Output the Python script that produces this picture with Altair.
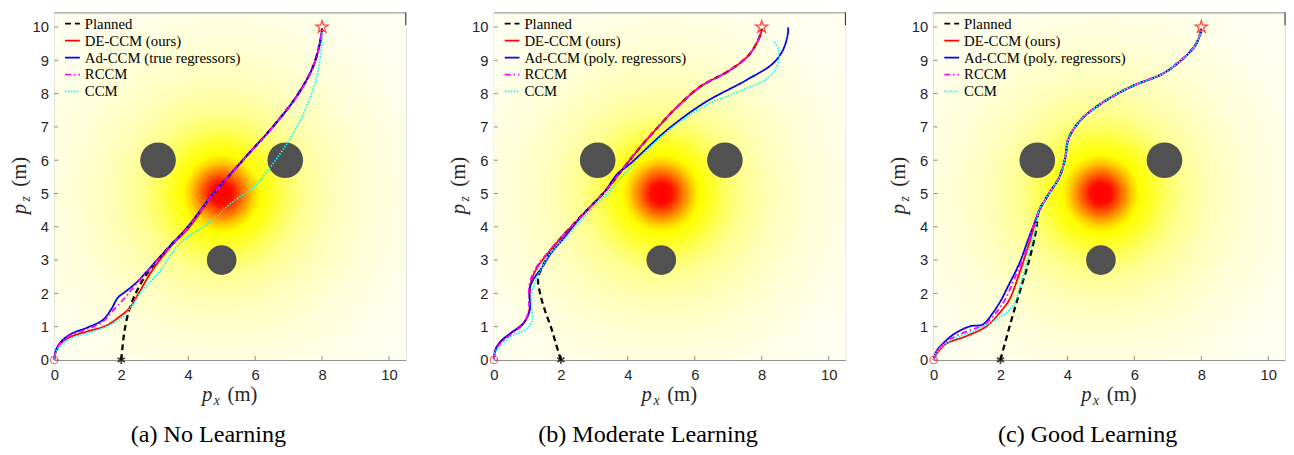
import math
import altair as alt
import pandas as pd

# ---------------- data ----------------
names_a = ["Planned", "DE-CCM (ours)", "Ad-CCM (true regressors)", "RCCM", "CCM"]
names_b = ["Planned", "DE-CCM (ours)", "Ad-CCM (poly. regressors)", "RCCM", "CCM"]
names_c = ["Planned", "DE-CCM (ours)", "Ad-CCM (poly. regressors)", "RCCM", "CCM"]
captions = ["(a) No Learning", "(b) Moderate Learning", "(c) Good Learning"]
x_ticks = [0, 2, 4, 6, 8, 10]
z_ticks = [0, 1, 2, 3, 4, 5, 6, 7, 8, 9, 10]

# obstacles (m)
obs_x = [3.1, 6.9, 5.0]
obs_z = [6.0, 6.0, 3.0]
obs_r = [0.6, 0.6, 0.5]

# start / planned start / goal
start_x, start_z = [0.0], [0.0]
plan0_x, plan0_z = [2.0], [0.0]
goal_x, goal_z = [8.0], [10.0]

# ---- panel (a) ----
a_plan_x = [2.0, 2.04, 2.09, 2.24, 2.53, 2.92, 3.51, 4.0, 4.59, 5.08, 5.76, 6.55, 7.24, 7.73, 7.95, 8.0]
a_plan_z = [0.0, 0.4, 0.82, 1.51, 2.2, 2.79, 3.48, 3.97, 4.76, 5.36, 6.14, 7.03, 7.92, 8.81, 9.6, 9.95]
a_de_x = [0.0, 0.05, 0.2, 0.5, 1.0, 1.55, 1.95, 2.24, 2.53, 2.92, 3.5, 4.0, 4.59, 5.08, 5.76, 6.55, 7.24, 7.73, 7.95, 8.0]
a_de_z = [0.0, 0.25, 0.5, 0.7, 0.86, 1.03, 1.3, 1.55, 2.02, 2.68, 3.43, 3.95, 4.75, 5.36, 6.14, 7.03, 7.92, 8.81, 9.6, 9.95]
a_ad_x = [0.0, 0.05, 0.2, 0.5, 1.0, 1.45, 1.7, 1.9, 2.15, 2.5, 2.95, 3.5, 4.0, 4.59, 5.08, 5.76, 6.55, 7.24, 7.73, 7.95, 8.0]
a_ad_z = [0.0, 0.3, 0.55, 0.78, 0.98, 1.2, 1.52, 1.87, 2.07, 2.37, 2.87, 3.47, 4.02, 4.8, 5.38, 6.15, 7.03, 7.92, 8.81, 9.6, 9.95]
a_rc_x = [0.0, 0.05, 0.2, 0.5, 1.0, 1.45, 1.75, 2.05, 2.3, 2.6, 3.0, 3.5, 4.0, 4.59, 5.08, 5.76, 6.55, 7.24, 7.73, 7.95, 8.0]
a_rc_z = [0.0, 0.28, 0.52, 0.75, 0.93, 1.15, 1.48, 1.8, 2.1, 2.45, 2.9, 3.44, 3.99, 4.78, 5.37, 6.14, 7.02, 7.9, 8.8, 9.6, 9.95]
a_cc_x = [0.0, 0.05, 0.2, 0.5, 1.0, 1.5, 2.0, 2.3, 2.6, 3.1, 3.75, 4.69, 5.27, 5.9, 6.35, 6.75, 7.04, 7.4, 7.65, 7.82, 7.93, 7.99, 8.0]
a_cc_z = [0.0, 0.22, 0.45, 0.65, 0.8, 0.98, 1.25, 1.6, 2.05, 2.6, 3.5, 4.17, 4.7, 5.15, 5.65, 6.2, 6.64, 7.3, 7.9, 8.4, 9.0, 9.45, 9.85]

# ---- panel (b) ----
b_plan_x = [2.0, 1.85, 1.7, 1.52, 1.38, 1.32, 1.45, 1.6, 1.91, 2.55, 3.35, 3.93, 4.41, 5.0, 5.39, 6.18, 7.06, 7.65, 7.97, 8.0]
b_plan_z = [0.0, 0.5, 1.0, 1.5, 2.0, 2.45, 2.8, 3.1, 3.55, 4.26, 5.1, 5.84, 6.44, 7.1, 7.52, 8.22, 8.71, 9.2, 9.79, 9.95]
b_de_x = [0.0, 0.05, 0.2, 0.49, 0.88, 1.06, 1.07, 1.1, 1.25, 1.67, 2.16, 2.6, 3.35, 3.93, 4.41, 5.0, 5.39, 6.18, 7.06, 7.65, 7.97, 8.0]
b_de_z = [0.0, 0.33, 0.55, 0.8, 1.1, 1.5, 2.0, 2.3, 2.7, 3.28, 3.83, 4.3, 5.1, 5.84, 6.44, 7.1, 7.52, 8.22, 8.71, 9.2, 9.79, 9.95]
b_ad_x = [0.0, 0.05, 0.2, 0.5, 0.88, 1.07, 1.06, 1.08, 1.2, 1.45, 1.7, 2.0, 2.6, 3.3, 3.7, 4.02, 5.2, 6.28, 7.55, 8.33, 8.63, 8.78, 8.79]
b_ad_z = [0.0, 0.3, 0.55, 0.8, 1.1, 1.5, 2.0, 2.2, 2.45, 2.8, 3.2, 3.55, 4.3, 5.05, 5.6, 5.85, 6.93, 7.72, 8.41, 8.9, 9.3, 9.79, 9.99]
b_rc_x = [0.0, 0.06, 0.25, 0.55, 0.9, 1.04, 1.04, 1.08, 1.25, 1.67, 2.16, 2.6, 3.35, 3.93, 4.41, 5.0, 5.39, 6.18, 7.06, 7.65, 7.97, 8.0]
b_rc_z = [0.0, 0.3, 0.55, 0.8, 1.1, 1.5, 2.0, 2.35, 2.75, 3.3, 3.85, 4.3, 5.1, 5.84, 6.44, 7.1, 7.52, 8.22, 8.71, 9.2, 9.79, 9.95]
b_cc_x = [0.0, 0.05, 0.25, 0.6, 1.0, 1.15, 1.13, 1.13, 1.32, 1.67, 2.16, 2.6, 3.43, 4.41, 5.39, 6.37, 7.35, 8.24, 8.48, 8.51, 8.36]
b_cc_z = [0.0, 0.25, 0.5, 0.75, 0.95, 1.2, 1.5, 2.0, 2.54, 3.19, 3.68, 4.18, 5.06, 6.14, 7.03, 7.67, 8.07, 8.51, 8.9, 9.3, 9.6]

# ---- panel (c) ----
c_plan_x = [2.0, 2.27, 2.56, 2.86, 3.06, 3.15, 3.45, 3.74, 3.93, 4.03, 4.42, 5.11, 5.95, 6.85, 7.45, 7.82, 7.97, 8.0]
c_plan_z = [0.0, 1.0, 2.0, 3.0, 3.87, 4.47, 5.0, 5.45, 6.04, 6.64, 7.23, 7.77, 8.23, 8.6, 9.05, 9.45, 9.8, 9.95]
c_de_x = [0.0, 0.06, 0.2, 0.4, 0.99, 1.58, 1.97, 2.26, 2.56, 2.85, 3.05, 3.15, 3.45, 3.74, 3.93, 4.03, 4.42, 5.11, 5.95, 6.85, 7.45, 7.82, 7.97, 8.0]
c_de_z = [0.0, 0.13, 0.32, 0.5, 0.72, 1.01, 1.41, 1.8, 2.59, 3.48, 4.17, 4.47, 5.0, 5.45, 6.04, 6.64, 7.23, 7.77, 8.23, 8.6, 9.05, 9.45, 9.8, 9.95]
c_ad_x = [0.0, 0.08, 0.21, 0.6, 1.09, 1.48, 1.77, 2.02, 2.22, 2.56, 2.85, 3.05, 3.15, 3.45, 3.74, 3.93, 4.03, 4.42, 5.11, 5.95, 6.85, 7.45, 7.82, 7.97, 8.0]
c_ad_z = [0.0, 0.25, 0.42, 0.77, 1.01, 1.07, 1.41, 1.8, 2.2, 2.89, 3.68, 4.2, 4.47, 5.0, 5.45, 6.04, 6.64, 7.23, 7.77, 8.23, 8.6, 9.05, 9.45, 9.8, 9.95]
c_rc_x = [0.0, 0.07, 0.2, 0.5, 1.05, 1.5, 1.85, 2.13, 2.4, 2.7, 2.95, 3.12, 3.45, 3.74, 3.93, 4.03, 4.42, 5.11, 5.95, 6.85, 7.45, 7.82, 7.97, 8.0]
c_rc_z = [0.0, 0.2, 0.38, 0.63, 0.88, 1.05, 1.4, 1.8, 2.4, 3.1, 3.9, 4.4, 5.0, 5.45, 6.04, 6.64, 7.23, 7.77, 8.23, 8.6, 9.05, 9.45, 9.8, 9.95]
c_cc_x = [0.0, 0.07, 0.2, 0.5, 1.09, 1.87, 2.36, 2.66, 2.85, 3.05, 3.15, 3.45, 3.74, 3.93, 4.03, 4.42, 5.11, 5.95, 6.85, 7.45, 7.82, 7.97, 8.0]
c_cc_z = [0.0, 0.18, 0.35, 0.58, 0.83, 1.21, 1.61, 2.49, 3.19, 3.97, 4.47, 5.0, 5.45, 6.04, 6.64, 7.23, 7.77, 8.23, 8.6, 9.05, 9.45, 9.8, 9.95]

panels = [
    (names_a, [(a_plan_x, a_plan_z), (a_de_x, a_de_z), (a_ad_x, a_ad_z), (a_rc_x, a_rc_z), (a_cc_x, a_cc_z)]),
    (names_b, [(b_plan_x, b_plan_z), (b_de_x, b_de_z), (b_ad_x, b_ad_z), (b_rc_x, b_rc_z), (b_cc_x, b_cc_z)]),
    (names_c, [(c_plan_x, c_plan_z), (c_de_x, c_de_z), (c_ad_x, c_ad_z), (c_rc_x, c_rc_z), (c_cc_x, c_cc_z)]),
]

# ---------------- styles ----------------
W, H = 357, 353
XMAX, YMAX = 10.5, 10.44
colors = ["#000000", "#ff0000", "#0000ff", "#ff00ff", "#00ffff"]
dashes = [[6, 4], [1, 0], [1, 0], [6, 3, 1.5, 3], [1.5, 1.5]]
widths = [2.3, 1.8, 1.8, 1.8, 1.8]
SERIF = "'Liberation Serif', 'Times New Roman', 'DejaVu Serif', serif"
SANS = "'Liberation Sans', Arial, Helvetica, sans-serif"

STAR = ("M0,-1L0.2245,-0.309L0.951,-0.309L0.363,0.118L0.588,0.809L0,0.382"
        "L-0.588,0.809L-0.363,0.118L-0.951,-0.309L-0.2245,-0.309Z")
ASTER = "M0,-1L0,1M-0.87,-0.5L0.87,0.5M-0.87,0.5L0.87,-0.5"

xscale = alt.Scale(domain=[0, XMAX], nice=False, zero=False)
yscale = alt.Scale(domain=[0, YMAX], nice=False, zero=False)
xaxis = alt.Axis(values=x_ticks, title=None, grid=False, ticks=False,
                 labelFont=SANS, labelFontSize=15, labelColor="#262626", labelPadding=8,
                 domainColor="#8c8c8c", labelFlush=False)
yaxis = alt.Axis(values=z_ticks, title=None, grid=False, ticks=False,
                 labelFont=SANS, labelFontSize=15, labelColor="#262626", labelPadding=6,
                 domainColor="#8c8c8c", labelFlush=False)

grad = alt.RadialGradient(
    gradient="radial", x1=5 / XMAX, y1=0.521, r1=0, x2=5 / XMAX, y2=0.521, r2=1,
    stops=[
        alt.GradientStop(offset=0.0, color="#ff0000"),
        alt.GradientStop(offset=0.03, color="#ff0a00"),
        alt.GradientStop(offset=0.06, color="#ff7000"),
        alt.GradientStop(offset=0.088, color="#ffcc00"),
        alt.GradientStop(offset=0.11, color="#ffff00"),
        alt.GradientStop(offset=0.14, color="#ffff22"),
        alt.GradientStop(offset=0.18, color="#ffff5c"),
        alt.GradientStop(offset=0.23, color="#ffff90"),
        alt.GradientStop(offset=0.31, color="#ffffb8"),
        alt.GradientStop(offset=0.43, color="#ffffd8"),
        alt.GradientStop(offset=0.57, color="#ffffec"),
        alt.GradientStop(offset=0.8, color="#fffff6"),
    ],
)

one = pd.DataFrame({"k": [0]})
ppu = W / XMAX


def X(f):
    return alt.X(f, type="quantitative", scale=xscale, axis=xaxis)


def Y(f):
    return alt.Y(f, type="quantitative", scale=yscale, axis=yaxis)


def label(text, x, y, size, italic=False, angle=0):
    kw = dict(text=text, font=SERIF, fontSize=size, align="left",
              baseline="alphabetic", color="#262626")
    if italic:
        kw["fontStyle"] = "italic"
    if angle:
        kw["angle"] = angle
    return alt.Chart(one).mark_text(**kw).encode(x=alt.value(x), y=alt.value(y))


def panel(names, trajs, caption):
    layers = []
    layers.append(alt.Chart(one).mark_rect(fill=grad, strokeWidth=0).encode(
        x=alt.value(0), x2=alt.value(W), y=alt.value(0), y2=alt.value(H)))
    obs = pd.DataFrame({"x": obs_x, "z": obs_z,
                        "s": [math.pi * (r * ppu) ** 2 for r in obs_r]})
    layers.append(alt.Chart(obs).mark_circle(color="#515151", opacity=1).encode(
        x=X("x"), y=Y("z"), size=alt.Size("s:Q", scale=None)))
    # inward ticks
    layers.append(alt.Chart(pd.DataFrame({"v": x_ticks})).mark_tick(
        orient="vertical", size=4, thickness=1, color="#595959", yOffset=-2).encode(
        x=X("v"), y=alt.value(H)))
    layers.append(alt.Chart(pd.DataFrame({"v": z_ticks})).mark_tick(
        orient="horizontal", size=4, thickness=1, color="#595959", xOffset=2).encode(
        y=Y("v"), x=alt.value(0)))
    legend = alt.Legend(orient="none", legendX=10, legendY=3, title=None,
                        symbolType="stroke", symbolSize=225, symbolStrokeWidth=1.8,
                        labelFont=SERIF, labelFontSize=15, labelColor="black",
                        labelOffset=4, rowPadding=0.2, padding=0, labelLimit=400)
    for k, (xs, zs) in enumerate(trajs):
        df = pd.DataFrame({"x": xs, "z": zs, "i": list(range(len(xs))),
                           "series": [names[k]] * len(xs)})
        layers.append(alt.Chart(df).mark_line(strokeWidth=widths[k],
                                              interpolate="catmull-rom").encode(
            x=X("x"), y=Y("z"), order="i:Q",
            color=alt.Color("series:N", scale=alt.Scale(domain=names, range=colors),
                            legend=legend),
            strokeDash=alt.StrokeDash("series:N", scale=alt.Scale(domain=names, range=dashes),
                                      legend=legend)))
    layers.append(alt.Chart(pd.DataFrame({"x": start_x, "z": start_z})).mark_point(
        shape="circle", size=60, color="#ff0000", strokeWidth=1, filled=False).encode(
        x=X("x"), y=Y("z")))
    layers.append(alt.Chart(pd.DataFrame({"x": plan0_x, "z": plan0_z})).mark_point(
        shape=ASTER, size=70, color="#000000", strokeWidth=1.8, filled=False).encode(
        x=X("x"), y=Y("z")))
    layers.append(alt.Chart(pd.DataFrame({"x": goal_x, "z": goal_z})).mark_point(
        shape=STAR, size=170, color="#ff0000", strokeWidth=1.3, filled=False).encode(
        x=X("x"), y=Y("z")))
    # frame: top edge and short right edge
    layers.append(alt.Chart(one).mark_rule(color="#8c8c8c", strokeWidth=1).encode(
        x=alt.value(0), x2=alt.value(W), y=alt.value(0.5)))
    layers.append(alt.Chart(one).mark_rule(color="#262626", strokeWidth=1).encode(
        x=alt.value(W), y=alt.value(0), y2=alt.value(13)))
    # axis titles as text (italic p with subscript)
    layers.append(label("p", 150, H + 42, 21, italic=True))
    layers.append(label("x", 162, H + 46, 14, italic=True))
    layers.append(label("(m)", 176, H + 42, 21))
    layers.append(label("p", -29, 205, 21, italic=True, angle=270))
    layers.append(label("z", -25, 192, 14, italic=True, angle=270))
    layers.append(label("(m)", -29, 177, 21, angle=270))
    return alt.layer(*layers).properties(
        width=W, height=H,
        title=alt.TitleParams(caption, orient="bottom", font=SERIF, fontSize=24.5,
                              fontWeight="normal", color="black", offset=15,
                              anchor="middle", dx=-22))


charts = [panel(n, t, c) for (n, t), c in zip(panels, captions)]
chart = alt.hconcat(*charts, spacing=41.5).resolve_scale(
    color="independent", strokeDash="independent").resolve_legend(
    color="independent", strokeDash="independent").properties(
    padding={"left": 0, "top": 0, "right": 0, "bottom": 0}).configure_view(
    stroke=None).configure(background="white")

chart.save("out.html", embed_options={"renderer": "svg", "actions": False})
